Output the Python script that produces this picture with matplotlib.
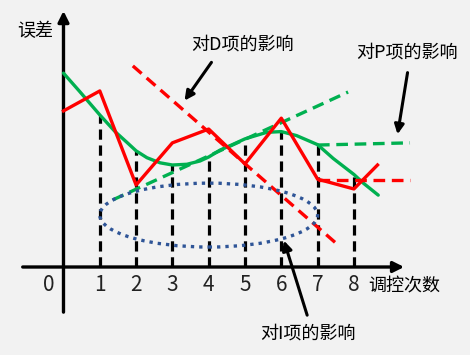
import matplotlib
matplotlib.use('Agg')
from matplotlib import pyplot as plt
from matplotlib.patches import Ellipse

plt.rcParams['font.family'] = ['Noto Sans CJK SC', 'DejaVu Sans']

# control steps and tick labels
steps = [1, 2, 3, 4, 5, 6, 7, 8]
tick_labels = ['1', '2', '3', '4', '5', '6', '7', '8']

# actual error (red polyline)
red_x = [0, 1, 2, 3, 4, 5, 6, 7, 8, 8.65]
red_y = [4.30, 4.85, 2.26, 3.42, 3.80, 2.84, 4.10, 2.42, 2.15, 2.81]

# smoothed error curve (green)
green_x = [0, 0.45, 1, 1.42, 1.74, 2, 2.3, 2.66, 3, 3.4, 3.76, 4, 4.31, 4.65,
           5, 5.6, 6, 6.42, 7, 7.43, 8, 8.26, 8.67]
green_y = [5.34, 4.83, 4.19, 3.73, 3.44, 3.20, 3.01, 2.87, 2.81, 2.83, 2.92, 3.03,
           3.22, 3.37, 3.53, 3.71, 3.73, 3.62, 3.37, 2.99, 2.55, 2.31, 1.98]

# tendency lines
p_slope_x = [1.36, 7.84]
p_slope_y = [1.85, 4.82]
p_flat_x = [7.01, 9.545]
p_flat_y = [3.36, 3.42]
d_slope_x = [1.91, 7.56]
d_slope_y = [5.54, 0.61]
d_flat_x = [7.0, 9.545]
d_flat_y = [2.40, 2.40]

# integral region
i_center = (4.0, 1.43)
i_width = 6.0
i_height = 1.76

fig = plt.figure(figsize=(4.7, 3.55), dpi=100)
fig.patch.set_facecolor('#f2f2f2')
ax = fig.add_axes([0, 0, 1, 1])
ax.set_facecolor('#f2f2f2')
ax.set_xlim(-1.749, 11.198)
ax.set_ylim(-2.424, 7.355)
ax.axis('off')

# axes with arrows
ax.annotate('', xy=(0, 7.13), xytext=(0, -1.32),
            arrowprops=dict(arrowstyle='-|>', color='black', lw=2.4, mutation_scale=16))
ax.annotate('', xy=(9.46, 0), xytext=(-1.2, 0),
            arrowprops=dict(arrowstyle='-|>', color='black', lw=2.4, mutation_scale=16))

# vertical dashed lines up to the green curve
for s in steps:
    top = green_y[green_x.index(s)]
    ax.plot([s, s], [0, top], color='black', lw=2.3, dashes=(3.2, 1.8), zorder=2)

ax.plot(green_x, green_y, color='#00b050', lw=2.4, zorder=3,
        solid_joinstyle='round', solid_capstyle='round')
ax.plot(red_x, red_y, color='#ff0000', lw=2.4, zorder=4)

ax.plot(p_slope_x, p_slope_y, color='#00b050', lw=2.4, dashes=(3.5, 2), zorder=3)
ax.plot(p_flat_x, p_flat_y, color='#00b050', lw=2.4, dashes=(3.5, 2), zorder=3)
ax.plot(d_slope_x, d_slope_y, color='#ff0000', lw=2.4, dashes=(3.5, 2), zorder=3)
ax.plot(d_flat_x, d_flat_y, color='#ff0000', lw=2.4, dashes=(3.5, 2), zorder=3)

ax.add_patch(Ellipse(i_center, i_width, i_height, fill=False, edgecolor='#2f5597',
                     lw=2.4, linestyle=(0, (1, 1.5)), zorder=5))

# labels
for s, t in zip(steps, tick_labels):
    ax.text(s, -0.5, t, ha='center', va='center', fontsize=15, color='#222222')
ax.text(-0.4, -0.5, '0', ha='center', va='center', fontsize=15, color='#222222')
ax.text(8.39, -0.55, '调控次数', ha='left', va='center', fontsize=13)
ax.text(-0.785, 6.5, '误差', ha='center', va='center', fontsize=13)

ax.text(4.94, 6.14, '对D项的影响', ha='center', va='center', fontsize=13)
ax.text(9.46, 5.90, '对P项的影响', ha='center', va='center', fontsize=13)
ax.text(6.735, -1.82, '对I项的影响', ha='center', va='center', fontsize=13)

arrow = dict(arrowstyle='-|>', color='black', lw=2.2, mutation_scale=14)
ax.annotate('', xy=(3.29, 4.52), xytext=(4.12, 5.70), arrowprops=arrow)
ax.annotate('', xy=(9.19, 3.58), xytext=(9.49, 5.43), arrowprops=arrow)
ax.annotate('', xy=(6.05, 0.80), xytext=(6.735, -1.40), arrowprops=arrow)

fig.savefig('out.png', dpi=100, facecolor=fig.get_facecolor())
